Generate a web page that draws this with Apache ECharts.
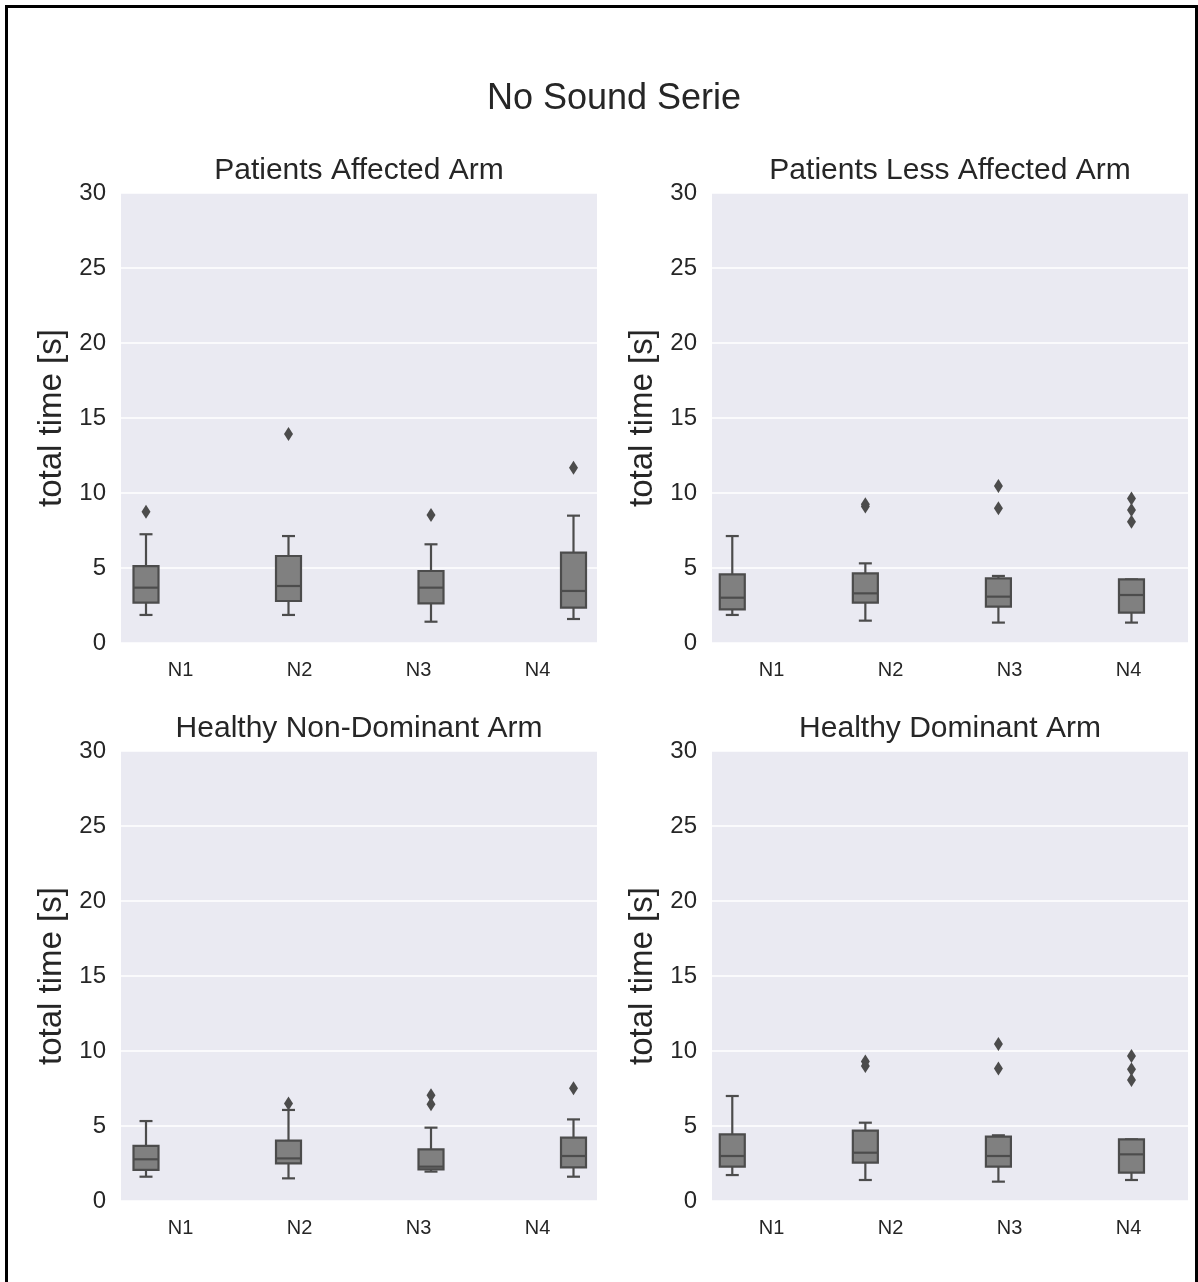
<!DOCTYPE html>
<html>
<head>
<meta charset="utf-8">
<script src="https://cdn.jsdelivr.net/npm/echarts@6/dist/echarts.min.js"></script>
<style>
html,body{margin:0;padding:0;background:#fff;}
#chart{position:absolute;left:0;top:0;width:1198px;height:1282px;}
</style>
</head>
<body>
<div id="chart"></div>
<script>
// ---------- data ----------
const mainTitle = 'No Sound Serie';
const categories = ['N1', 'N2', 'N3', 'N4'];
const yTicks = [0, 5, 10, 15, 20, 25, 30];
const yAxisName = 'total time [s]';
const panelTitles = ['Patients Affected Arm', 'Patients Less Affected Arm', 'Healthy Non-Dominant Arm', 'Healthy Dominant Arm'];

// box statistics per category: [lower whisker, Q1, median, Q3, upper whisker]
const affectedBoxes = [[1.87, 2.69, 3.69, 5.13, 7.25], [1.87, 2.80, 3.80, 5.80, 7.13], [1.42, 2.64, 3.69, 4.80, 6.58], [1.60, 2.36, 3.47, 6.02, 8.49]];
const affectedOutliers = [[8.75], [13.93], [8.53], [11.69]];

const lessAffectedBoxes = [[1.87, 2.24, 3.02, 4.58, 7.13], [1.49, 2.69, 3.31, 4.64, 5.31], [1.36, 2.42, 3.09, 4.31, 4.47], [1.36, 2.02, 3.20, 4.24, 4.24]];
const lessAffectedOutliers = [[], [9.10, 9.25], [8.98, 10.47], [8.09, 8.87, 9.64]];

const nonDominantBoxes = [[1.62, 2.07, 2.78, 3.67, 5.33], [1.51, 2.51, 2.84, 4.02, 6.07], [1.96, 2.11, 2.29, 3.44, 4.89], [1.62, 2.24, 3.00, 4.22, 5.44]];
const nonDominantOutliers = [[], [6.50], [6.45, 7.05], [7.51]];

const dominantBoxes = [[1.73, 2.29, 3.00, 4.44, 7.00], [1.40, 2.56, 3.22, 4.69, 5.22], [1.29, 2.29, 3.00, 4.29, 4.38], [1.40, 1.89, 3.11, 4.11, 4.11]];
const dominantOutliers = [[], [9.00, 9.30], [8.84, 10.47], [8.07, 8.78, 9.67]];

// ---------- layout / style ----------
const boxSets = [affectedBoxes, lessAffectedBoxes, nonDominantBoxes, dominantBoxes];
const outlierSets = [affectedOutliers, lessAffectedOutliers, nonDominantOutliers, dominantOutliers];
const panelLefts = [121, 712, 121, 712];
const panelTops = [193, 193, 751, 751];
const PW = 476, PH = 450;
const BOX_OFFSET = -46.25, BOX_GRID_W = 570;
const FONT = '"Liberation Sans", Arial, Helvetica, sans-serif';
const TEXT = '#262626';
const BG = '#EAEAF2';
const FILL = '#808080';
const LINE = '#4c4c4c';
const yMin = yTicks[0], yMax = yTicks[yTicks.length - 1], yStep = yTicks[1] - yTicks[0];

function renderBox(params, api) {
  const x = api.value(0);
  const lo = api.coord([x, api.value(1)]);
  const q1 = api.coord([x, api.value(2)]);
  const md = api.coord([x, api.value(3)]);
  const q3 = api.coord([x, api.value(4)]);
  const hi = api.coord([x, api.value(5)]);
  const cx = lo[0], hw = 12.5, cw = 6.5;
  const st = { stroke: LINE, lineWidth: 2.2, fill: null };
  return {
    type: 'group',
    children: [
      { type: 'line', shape: { x1: cx, y1: hi[1], x2: cx, y2: q3[1] }, style: st },
      { type: 'line', shape: { x1: cx, y1: q1[1], x2: cx, y2: lo[1] }, style: st },
      { type: 'line', shape: { x1: cx - cw, y1: hi[1], x2: cx + cw, y2: hi[1] }, style: st },
      { type: 'line', shape: { x1: cx - cw, y1: lo[1], x2: cx + cw, y2: lo[1] }, style: st },
      { type: 'rect', shape: { x: cx - hw, y: q3[1], width: 2 * hw, height: q1[1] - q3[1] }, style: { fill: FILL, stroke: LINE, lineWidth: 2.2 } },
      { type: 'line', shape: { x1: cx - hw, y1: md[1], x2: cx + hw, y2: md[1] }, style: st }
    ]
  };
}

const grid = [], xAxis = [], yAxis = [], series = [], title = [];
title.push({ text: mainTitle, left: 614, top: 81, textAlign: 'center', padding: 0,
  textStyle: { fontFamily: FONT, fontSize: 36, fontWeight: 'normal', color: TEXT } });

for (let p = 0; p < 4; p++) {
  const L = panelLefts[p], T = panelTops[p];
  // visible panel grid
  grid.push({ left: L, top: T, width: PW, height: PH, show: true, backgroundColor: BG, borderWidth: 0 });
  xAxis.push({ type: 'category', gridIndex: 2 * p, data: categories, boundaryGap: true,
    axisLine: { show: false }, axisTick: { show: false }, splitLine: { show: false },
    axisLabel: { fontFamily: FONT, fontSize: 20, color: TEXT, margin: 17 } });
  yAxis.push({ type: 'value', gridIndex: 2 * p, min: yMin, max: yMax, interval: yStep,
    name: yAxisName, nameLocation: 'middle', nameGap: 53,
    nameTextStyle: { fontFamily: FONT, fontSize: 33, color: TEXT },
    axisLine: { show: false }, axisTick: { show: false },
    axisLabel: { fontFamily: FONT, fontSize: 24, color: TEXT, margin: 15 },
    splitLine: { show: true, lineStyle: { color: '#ffffff', width: 1.6 } } });
  // box grid (same vertical scale, dodge-shifted horizontal positions)
  grid.push({ left: L + BOX_OFFSET, top: T, width: BOX_GRID_W, height: PH, show: false });
  xAxis.push({ type: 'category', gridIndex: 2 * p + 1, data: categories, boundaryGap: true, show: false });
  yAxis.push({ type: 'value', gridIndex: 2 * p + 1, min: yMin, max: yMax, interval: yStep, show: false, splitLine: { show: false } });

  const boxData = boxSets[p].map((b, i) => [i].concat(b));
  series.push({ type: 'custom', xAxisIndex: 2 * p + 1, yAxisIndex: 2 * p + 1,
    renderItem: renderBox, data: boxData, encode: { x: 0, y: [1, 2, 3, 4, 5] }, z: 3, silent: true });
  const outData = [];
  outlierSets[p].forEach((arr, i) => arr.forEach(v => outData.push([i, v])));
  series.push({ type: 'scatter', xAxisIndex: 2 * p + 1, yAxisIndex: 2 * p + 1, data: outData,
    symbol: 'diamond', symbolSize: [9, 14], itemStyle: { color: LINE, opacity: 1 }, z: 4, silent: true });

  title.push({ text: panelTitles[p], left: L + PW / 2, top: T - 37, textAlign: 'center', padding: 0,
    textStyle: { fontFamily: FONT, fontSize: 30, fontWeight: 'normal', color: TEXT } });
}

const chart = echarts.init(document.getElementById('chart'), null, { renderer: 'canvas' });
chart.setOption({
  animation: false,
  backgroundColor: '#ffffff',
  title: title,
  grid: grid,
  xAxis: xAxis,
  yAxis: yAxis,
  series: series,
  graphic: [{ type: 'rect', left: 4, top: 4, shape: { x: 0, y: 0, width: 1190, height: 1300 },
    style: { fill: null, stroke: '#000000', lineWidth: 3 }, silent: true }]
});
</script>
</body>
</html>
